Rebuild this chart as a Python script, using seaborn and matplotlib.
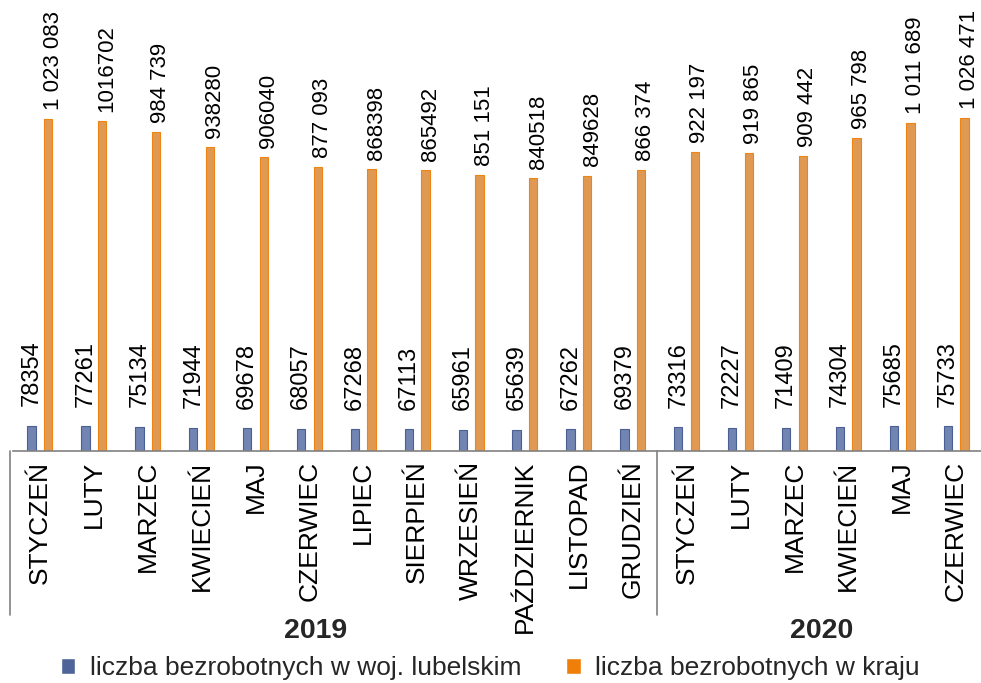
import matplotlib
matplotlib.use("Agg")
import matplotlib.pyplot as plt
import matplotlib.transforms as mtransforms
from matplotlib.patches import Patch
import pandas as pd
import seaborn as sns

# dane: liczba bezrobotnych (2019-01 .. 2020-06)
miesiace = ["STYCZEŃ", "LUTY", "MARZEC", "KWIECIEŃ", "MAJ", "CZERWIEC",
            "LIPIEC", "SIERPIEŃ", "WRZESIEŃ", "PAŹDZIERNIK", "LISTOPAD", "GRUDZIEŃ",
            "STYCZEŃ", "LUTY", "MARZEC", "KWIECIEŃ", "MAJ", "CZERWIEC"]
lata = [2019] * 12 + [2020] * 6
lubelskie = [78354, 77261, 75134, 71944, 69678, 68057, 67268, 67113, 65961,
             65639, 67262, 69379, 73316, 72227, 71409, 74304, 75685, 75733]
kraj = [1023083, 1016702, 984739, 938280, 906040, 877093, 868398, 865492, 851151,
        840518, 849628, 866374, 922197, 919865, 909442, 965798, 1011689, 1026471]
etykiety_lubelskie = ["78354", "77261", "75134", "71944", "69678", "68057", "67268",
                      "67113", "65961", "65639", "67262", "69379", "73316", "72227",
                      "71409", "74304", "75685", "75733"]
etykiety_kraj = ["1 023 083", "1016702", "984 739", "938280", "906040", "877 093",
                 "868398", "865492", "851 151", "840518", "849628", "866 374",
                 "922 197", "919 865", "909 442", "965 798", "1 011 689", "1 026 471"]
seria_lub = "liczba bezrobotnych w woj. lubelskim"
seria_kraj = "liczba bezrobotnych w kraju"

okres = [f"{r}-{i % 12 + 1:02d}" for i, r in enumerate(lata)]
df = pd.DataFrame({
    "okres": okres * 2,
    "wartosc": lubelskie + kraj,
    "seria": [seria_lub] * len(okres) + [seria_kraj] * len(okres),
})

sns.set_theme(style="white")
plt.rcParams["font.family"] = ["Liberation Sans", "DejaVu Sans"]

W, H = 981, 683
fig = plt.figure(figsize=(W / 100, H / 100), dpi=100)
base_px = 451
left_px, right_px = 13, 983
ax = fig.add_axes([left_px / W, 1 - base_px / H, (right_px - left_px) / W, base_px / H])

kolory = {seria_lub: "#6780BC", seria_kraj: "#F7993C"}
krawedzie = ["#4A5F94", "#EE8414"]
sns.barplot(data=df, x="okres", y="wartosc", hue="seria", order=okres,
            palette=kolory, width=0.62, gap=0.5, ax=ax, legend=False)

# etykiety danych: (przesuniecie x, odstep nad slupkiem, rozmiar)
ustawienia = [(0, 14, 17), (3.5, 6.5, 16)]
for cont, edge, labels, (dx, dy, fs) in zip(ax.containers, krawedzie,
                                            [etykiety_lubelskie, etykiety_kraj], ustawienia):
    for bar, lab in zip(cont, labels):
        bar.set_edgecolor(edge)
        bar.set_linewidth(0.8)
        x = bar.get_x() + bar.get_width() / 2
        ax.annotate(lab, (x, bar.get_height()), xytext=(dx, dy), textcoords="offset points",
                    rotation=90, ha="center", va="bottom", fontsize=fs, color="black")

ax.set_xlim(-0.5, len(okres) - 0.5)
ax.set_ylim(0, 1391000)
ax.set_yticks([])
ax.set_xlabel("")
ax.set_ylabel("")
ax.set_xticks(range(len(okres)))
ax.set_xticklabels(miesiace, rotation=90, fontsize=19, va="top")
ax.tick_params(axis="x", length=0, pad=7, colors="black")
for s in ["top", "left", "right"]:
    ax.spines[s].set_visible(False)
ax.spines["bottom"].set_color("#808080")
ax.spines["bottom"].set_linewidth(1.2)

# pionowe linie grupujace lata
trans = mtransforms.blended_transform_factory(ax.transData, ax.transAxes)
dol = -(615 - base_px) / base_px
for xs in [-0.56, 11.45]:
    ax.plot([xs, xs], [0, dol], transform=trans, color="#808080", lw=1.2, clip_on=False)

fig.text(316 / W, 1 - 631 / H, "2019", ha="center", va="center", fontsize=20.5, fontweight="bold")
fig.text(822 / W, 1 - 631 / H, "2020", ha="center", va="center", fontsize=20.5, fontweight="bold")

uchwyty = [Patch(facecolor="#4F6499", label=seria_lub), Patch(facecolor="#F07F09", label=seria_kraj)]
fig.legend(handles=uchwyty, loc="center", bbox_to_anchor=(0.5, 1 - 668 / H), ncol=2,
           frameon=False, fontsize=19, handlelength=0.55, handleheight=0.55,
           handletextpad=0.55, columnspacing=1.7, borderaxespad=0)

fig.savefig("out.png", dpi=100)
plt.close(fig)
